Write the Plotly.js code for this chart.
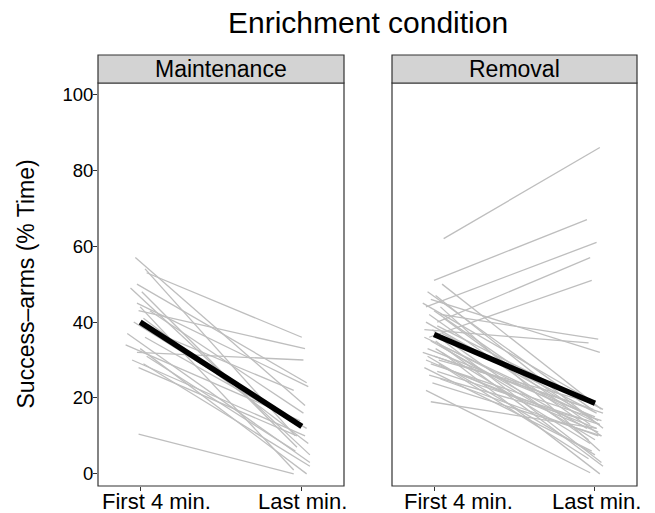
<!DOCTYPE html>
<html><head><meta charset="utf-8">
<script src="https://cdn.plot.ly/plotly-3.0.1.min.js"></script>
<style>body{margin:0;background:#fff}</style>
</head><body>
<div id="chart" style="width:655px;height:513px"></div>
<script>
// ---- data ----
const phases = ["First 4 min.", "Last min."];
const conditions = ["Maintenance", "Removal"];
const yTicks = [0, 20, 40, 60, 80, 100];

// Maintenance: per-subject values (% time) at first 4 min. and last min.
const maintFirst = [57, 54, 53, 50, 49, 48, 45, 44, 43, 43, 41, 40, 38, 37, 36, 34, 33, 32, 31, 30, 29, 28, 10.5];
const maintLast  = [18, 10, 36, 24, 5, 7, 23, 1, 16, 33, 8, 13, 22, 3, 12, 14, 0, 30, 6, 10, 2, 10, 0];
// horizontal jitter of each subject's end points (category units)
const maintJitFirst = [-0.03, 0.03, 0.04, -0.02, -0.06, 0.01, -0.02, 0.0, 0.06, -0.01, 0.02, -0.04, 0.05, -0.08, 0.03, -0.09, 0.0, -0.02, 0.04, -0.05, 0.02, -0.01, -0.01];
const maintJitLast  = [0.02, -0.04, 0.0, 0.03, 0.05, -0.03, 0.04, -0.05, 0.01, 0.02, 0.04, -0.02, -0.05, 0.05, 0.03, -0.01, 0.03, 0.01, -0.04, 0.02, 0.05, -0.03, -0.05];
const maintMean = [40.0, 12.5];

// Removal
const remFirst = [62, 51, 44, 40, 36, 42, 38, 46, 34, 50, 48, 47, 45, 44, 43, 42, 41, 40, 39, 38, 37, 36, 36, 35, 34, 33, 33, 32, 32, 31, 30, 30, 29, 28, 28, 27, 26, 25, 24, 22, 19, 29, 35, 31];
const remLast  = [86, 67, 61, 57, 51, 35.5, 34.5, 32, 9, 17, 17, 12, 20, 6, 14, 10, 13, 14, 17, 9, 16, 15, 3, 12, 13, 15, 8, 16, 0, 17, 11, 19, 14, 12, 6, 13, 14, 10, 10, 0.3, 12, 4, 2, 5];
const remJitFirst = [0.06, 0.0, -0.05, 0.02, -0.03, 0.04, -0.06, -0.02, 0.03, 0.05, -0.04, 0.01, -0.07, 0.04, 0.0, -0.03, 0.06, -0.05, 0.02, -0.01, 0.05, -0.06, 0.03, -0.02, 0.04, -0.04, 0.01, -0.07, 0.05, 0.0, -0.05, 0.03, -0.02, 0.06, -0.06, 0.02, -0.03, 0.04, -0.01, -0.05, -0.02, 0.03, 0.01, -0.04];
const remJitLast  = [0.03, -0.05, 0.01, -0.03, -0.02, 0.02, -0.04, 0.03, 0.0, 0.04, -0.02, 0.05, -0.05, 0.03, -0.01, 0.04, -0.03, 0.02, 0.05, -0.04, 0.01, -0.02, 0.04, -0.05, 0.03, 0.0, -0.03, 0.05, 0.03, -0.01, 0.02, -0.04, 0.04, 0.01, -0.02, 0.03, -0.05, 0.02, 0.04, -0.03, 0.01, -0.04, 0.05, 0.0];
const remMean = [36.7, 18.6];

// ---- build traces ----
function spaghetti(first, last, jf, jl, xa, ya) {
  const x = [], y = [];
  for (let i = 0; i < first.length; i++) {
    x.push(1 + jf[i], 2 + jl[i], null);
    y.push(first[i], last[i], null);
  }
  return {type: 'scatter', mode: 'lines', x: x, y: y, xaxis: xa, yaxis: ya,
          line: {color: '#bebebe', width: 1.3}, hoverinfo: 'skip', showlegend: false};
}
function meanLine(m, xa, ya) {
  return {type: 'scatter', mode: 'lines', x: [1, 2], y: m, xaxis: xa, yaxis: ya,
          line: {color: '#000000', width: 5.5}, showlegend: false};
}
const data = [
  spaghetti(maintFirst, maintLast, maintJitFirst, maintJitLast, 'x', 'y'),
  meanLine(maintMean, 'x', 'y'),
  spaghetti(remFirst, remLast, remJitFirst, remJitLast, 'x2', 'y2'),
  meanLine(remMean, 'x2', 'y2')
];

// ---- layout ----
const W = 655, H = 513;
const px = v => v / W, py = v => 1 - v / H;
const P1 = [98, 344], P2 = [392, 637];
const panelTop = 83, panelBottom = 486, stripTop = 55;
const xr = [0.739, 2.261], yr = [-3.2, 103];
const font = 'Liberation Sans, Arial, Helvetica, sans-serif';
// label centres, px from each panel's left edge
const labelOffsets = [[58, 204], [66, 204]];

const xbase = {range: xr, tickvals: [1, 2], showticklabels: false, ticks: 'outside', ticklen: 4,
               tickcolor: '#333', tickwidth: 1, showgrid: false, zeroline: false, showline: false, fixedrange: true};
const layout = {
  width: W, height: H, margin: {l: 0, r: 0, t: 0, b: 0},
  paper_bgcolor: '#fff', plot_bgcolor: '#fff', showlegend: false,
  font: {family: font, color: '#000'},
  xaxis: Object.assign({}, xbase, {domain: [px(P1[0]), px(P1[1])], anchor: 'y'}),
  xaxis2: Object.assign({}, xbase, {domain: [px(P2[0]), px(P2[1])], anchor: 'y2'}),
  yaxis: {domain: [py(panelBottom), py(panelTop)], range: yr, tickvals: yTicks, ticks: 'outside', ticklen: 4,
          tickcolor: '#333', ticklabelstandoff: -4, tickfont: {size: 18.5, color: '#000', family: font},
          showgrid: false, zeroline: false, showline: false, anchor: 'x'},
  yaxis2: {domain: [py(panelBottom), py(panelTop)], range: yr, showticklabels: false, ticks: '',
           showgrid: false, zeroline: false, showline: false, anchor: 'x2'},
  shapes: [],
  annotations: []
};
[P1, P2].forEach((P, i) => {
  layout.shapes.push({type: 'rect', xref: 'paper', yref: 'paper', x0: px(P[0]), x1: px(P[1]),
    y0: py(panelBottom), y1: py(panelTop), line: {color: '#333', width: 1.2}, fillcolor: 'rgba(0,0,0,0)'});
  layout.shapes.push({type: 'rect', xref: 'paper', yref: 'paper', x0: px(P[0]), x1: px(P[1]),
    y0: py(panelTop), y1: py(stripTop), line: {color: '#333', width: 1.2}, fillcolor: '#d3d3d3'});
  layout.annotations.push({xref: 'paper', yref: 'paper', x: px((P[0] + P[1]) / 2), y: py((panelTop + stripTop) / 2),
    text: conditions[i], showarrow: false, font: {size: 23, color: '#000'}, xanchor: 'center', yanchor: 'middle'});
  phases.forEach((ph, j) => {
    layout.annotations.push({xref: 'paper', yref: 'paper', x: px(P[0] + labelOffsets[i][j]), y: py(panelBottom),
      yanchor: 'top', yshift: -1, text: ph, showarrow: false, font: {size: 22, color: '#000'}, xanchor: 'center'});
  });
});
layout.annotations.push({xref: 'paper', yref: 'paper', x: px((P1[0] + P2[1]) / 2), y: py(22),
  text: 'Enrichment condition', showarrow: false, font: {size: 30, color: '#000'}, xanchor: 'center', yanchor: 'middle'});
layout.annotations.push({xref: 'paper', yref: 'paper', x: px(25), y: py((panelTop + panelBottom) / 2),
  text: 'Success\u2013arms (% Time)', textangle: -90, showarrow: false, font: {size: 23, color: '#000'},
  xanchor: 'center', yanchor: 'middle'});

Plotly.newPlot('chart', data, layout, {staticPlot: true, displayModeBar: false});
</script>
</body></html>
